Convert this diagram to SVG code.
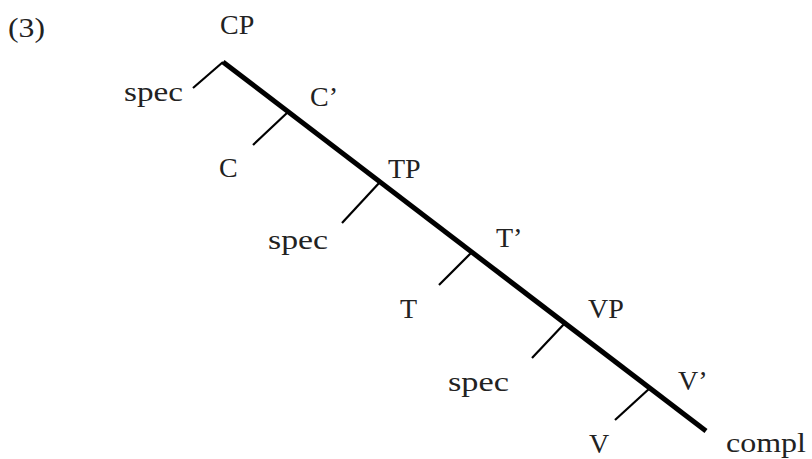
<svg xmlns="http://www.w3.org/2000/svg" width="812" height="459" viewBox="0 0 812 459">
<style>
text{font-family:"Liberation Serif","Times New Roman",serif;font-size:28px;fill:#222}
.main{stroke:#000;stroke-width:5;fill:none;stroke-linecap:butt}
.br{stroke:#000;stroke-width:2.2;fill:none}
</style>
<rect width="812" height="459" fill="#fff"/>
<text x="8" y="37" textLength="37" lengthAdjust="spacingAndGlyphs">(3)</text>
<g id="connectors">
<path class="main" d="M223,62 L706,431"/>
<path class="br" d="M223,62 L193,88"/>
<path class="br" d="M288,112 L253,145"/>
<path class="br" d="M380,182 L342,223"/>
<path class="br" d="M472,252 L439,285"/>
<path class="br" d="M565,323 L532,358"/>
<path class="br" d="M650,388 L615,420"/>
</g>
<g id="CP"><text x="220" y="34">CP</text></g>
<g id="spec1"><text x="124" y="101" textLength="59" lengthAdjust="spacingAndGlyphs">spec</text></g>
<g id="Cbar"><text x="310" y="106">C’</text></g>
<g id="C"><text x="219" y="177">C</text></g>
<g id="TP"><text x="388" y="178">TP</text></g>
<g id="spec2"><text x="268" y="249" textLength="60" lengthAdjust="spacingAndGlyphs">spec</text></g>
<g id="Tbar"><text x="496" y="247">T’</text></g>
<g id="T"><text x="400" y="318">T</text></g>
<g id="VP"><text x="588" y="318">VP</text></g>
<g id="spec3"><text x="448" y="391" textLength="61" lengthAdjust="spacingAndGlyphs">spec</text></g>
<g id="Vbar"><text x="678" y="390">V’</text></g>
<g id="V"><text x="589" y="453">V</text></g>
<g id="compl"><text x="726" y="452" textLength="80" lengthAdjust="spacingAndGlyphs">compl</text></g>
</svg>
